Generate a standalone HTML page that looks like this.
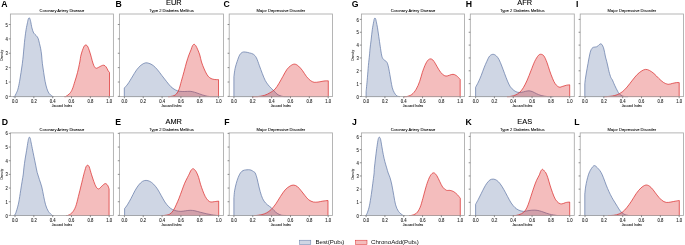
<!DOCTYPE html>
<html><head><meta charset="utf-8"><title>KDE plots</title><style>
html,body{margin:0;padding:0;background:#fff;}
svg{display:block;will-change:transform;}
text{font-family:"Liberation Sans",sans-serif;fill:#333;}
.tk{font-size:4.2px;fill:#222;stroke:#222;stroke-width:0.08px;}
.ti{font-size:4.1px;fill:#000;stroke:#000;stroke-width:0.06px;}
.xl{font-size:3.25px;fill:#111;stroke:#111;stroke-width:0.06px;}
.pl{font-size:8.7px;font-weight:bold;fill:#000;}
.gt{font-size:7.4px;fill:#000;stroke:#000;stroke-width:0.1px;}
.lg{font-size:6.15px;fill:#111;}
</style></head>
<body>
<svg width="685" height="245" viewBox="0 0 685 245">
<rect width="685" height="245" fill="#fff"/>
<path d="M13.00,96.60 L13.00,96.60 C13.23,96.60 13.88,96.60 14.40,96.60 C14.92,96.10 15.52,94.83 16.10,93.60 C16.68,92.37 17.32,91.25 17.90,89.20 C18.48,87.15 19.08,84.08 19.60,81.30 C20.12,78.52 20.55,75.42 21.00,72.50 C21.45,69.58 21.92,66.72 22.30,63.80 C22.68,60.88 23.02,57.78 23.30,55.00 C23.58,52.22 23.73,49.88 24.00,47.10 C24.27,44.32 24.55,41.23 24.90,38.30 C25.25,35.37 25.67,32.13 26.10,29.50 C26.53,26.87 27.15,24.20 27.50,22.50 C27.85,20.80 27.95,20.08 28.20,19.30 C28.45,18.52 28.72,17.90 29.00,17.80 C29.28,17.70 29.62,18.07 29.90,18.70 C30.18,19.33 30.37,20.08 30.70,21.60 C31.03,23.12 31.40,25.90 31.90,27.80 C32.40,29.70 32.97,31.68 33.70,33.00 C34.43,34.32 35.57,34.82 36.30,35.70 C37.03,36.58 37.57,36.98 38.10,38.30 C38.63,39.62 39.07,41.85 39.50,43.60 C39.93,45.35 40.35,46.90 40.70,48.80 C41.05,50.70 41.32,52.50 41.60,55.00 C41.88,57.50 42.05,60.88 42.40,63.80 C42.75,66.72 43.25,69.58 43.70,72.50 C44.15,75.42 44.58,78.67 45.10,81.30 C45.62,83.93 46.17,86.32 46.80,88.30 C47.43,90.28 48.02,91.88 48.90,93.20 C49.78,94.52 51.32,95.63 52.10,96.20 C52.88,96.60 53.35,96.53 53.60,96.60 L53.60,96.60 Z" fill="#5f76a5" fill-opacity="0.3" stroke="#5f76a5" stroke-width="0.7" stroke-linejoin="round"/>
<path d="M64.30,96.60 L64.30,96.60 C64.52,96.60 64.72,96.60 65.60,96.60 C66.48,96.10 68.48,94.83 69.60,93.60 C70.72,92.37 71.42,91.25 72.30,89.20 C73.18,87.15 74.03,84.08 74.90,81.30 C75.77,78.52 76.68,75.72 77.50,72.50 C78.32,69.28 79.22,64.92 79.80,62.00 C80.38,59.08 80.35,57.48 81.00,55.00 C81.65,52.52 82.90,48.77 83.70,47.10 C84.50,45.43 85.08,45.00 85.80,45.00 C86.52,45.00 87.18,45.43 88.00,47.10 C88.82,48.77 90.02,52.80 90.70,55.00 C91.38,57.20 91.58,58.55 92.10,60.30 C92.62,62.05 93.17,64.18 93.80,65.50 C94.43,66.82 95.10,67.90 95.90,68.20 C96.70,68.50 97.72,67.68 98.60,67.30 C99.48,66.92 100.33,66.25 101.20,65.90 C102.07,65.55 102.98,65.03 103.80,65.20 C104.62,65.37 105.37,65.97 106.10,66.90 C106.83,67.83 107.63,69.87 108.20,70.80 C108.77,71.73 109.28,72.22 109.50,72.50 L109.50,96.60 Z" fill="#da2626" fill-opacity="0.3" stroke="#da2626" stroke-width="0.7" stroke-linejoin="round"/>
<rect x="10.40" y="14.00" width="103.00" height="82.60" fill="none" stroke="#a8a8a8" stroke-width="0.85"/>
<line x1="15.00" y1="96.60" x2="15.00" y2="98.20" stroke="#444" stroke-width="0.6"/>
<text transform="translate(15.00,102.60) scale(1,1.1)" class="tk" text-anchor="middle">0.0</text>
<line x1="33.84" y1="96.60" x2="33.84" y2="98.20" stroke="#444" stroke-width="0.6"/>
<text transform="translate(33.84,102.60) scale(1,1.1)" class="tk" text-anchor="middle">0.2</text>
<line x1="52.68" y1="96.60" x2="52.68" y2="98.20" stroke="#444" stroke-width="0.6"/>
<text transform="translate(52.68,102.60) scale(1,1.1)" class="tk" text-anchor="middle">0.4</text>
<line x1="71.52" y1="96.60" x2="71.52" y2="98.20" stroke="#444" stroke-width="0.6"/>
<text transform="translate(71.52,102.60) scale(1,1.1)" class="tk" text-anchor="middle">0.6</text>
<line x1="90.36" y1="96.60" x2="90.36" y2="98.20" stroke="#444" stroke-width="0.6"/>
<text transform="translate(90.36,102.60) scale(1,1.1)" class="tk" text-anchor="middle">0.8</text>
<line x1="109.20" y1="96.60" x2="109.20" y2="98.20" stroke="#444" stroke-width="0.6"/>
<text transform="translate(109.20,102.60) scale(1,1.1)" class="tk" text-anchor="middle">1.0</text>
<line x1="8.80" y1="96.40" x2="10.40" y2="96.40" stroke="#444" stroke-width="0.6"/>
<text transform="translate(7.80,98.50) scale(1,1.1)" class="tk" text-anchor="end">0</text>
<line x1="8.80" y1="82.02" x2="10.40" y2="82.02" stroke="#444" stroke-width="0.6"/>
<text transform="translate(7.80,84.12) scale(1,1.1)" class="tk" text-anchor="end">1</text>
<line x1="8.80" y1="67.64" x2="10.40" y2="67.64" stroke="#444" stroke-width="0.6"/>
<text transform="translate(7.80,69.74) scale(1,1.1)" class="tk" text-anchor="end">2</text>
<line x1="8.80" y1="53.26" x2="10.40" y2="53.26" stroke="#444" stroke-width="0.6"/>
<text transform="translate(7.80,55.36) scale(1,1.1)" class="tk" text-anchor="end">3</text>
<line x1="8.80" y1="38.88" x2="10.40" y2="38.88" stroke="#444" stroke-width="0.6"/>
<text transform="translate(7.80,40.98) scale(1,1.1)" class="tk" text-anchor="end">4</text>
<line x1="8.80" y1="24.50" x2="10.40" y2="24.50" stroke="#444" stroke-width="0.6"/>
<text transform="translate(7.80,26.60) scale(1,1.1)" class="tk" text-anchor="end">5</text>
<text x="61.90" y="11.60" class="ti" text-anchor="middle">Coronary Artery Disease</text>
<text x="61.90" y="106.90" class="xl" text-anchor="middle">Jaccard Index</text>
<text x="0" y="0" class="xl" text-anchor="middle" transform="translate(3.40,55.30) rotate(-90)">Density</text>
<text x="1.20" y="6.70" class="pl">A</text>
<path d="M124.30,96.60 L124.30,88.00 C124.88,87.33 126.48,85.83 127.80,84.00 C129.12,82.17 130.73,79.35 132.20,77.00 C133.67,74.65 135.13,71.87 136.60,69.90 C138.07,67.93 139.55,66.37 141.00,65.20 C142.45,64.03 143.98,63.22 145.30,62.90 C146.62,62.58 147.58,62.87 148.90,63.30 C150.22,63.73 151.75,64.40 153.20,65.50 C154.65,66.60 156.13,68.20 157.60,69.90 C159.07,71.60 160.53,73.80 162.00,75.70 C163.47,77.60 164.93,79.48 166.40,81.30 C167.87,83.12 169.33,85.18 170.80,86.60 C172.27,88.02 173.73,89.02 175.20,89.80 C176.67,90.58 178.00,91.02 179.60,91.30 C181.20,91.58 183.05,91.50 184.80,91.50 C186.55,91.50 188.48,91.18 190.10,91.30 C191.72,91.42 192.88,91.75 194.50,92.20 C196.12,92.65 198.05,93.42 199.80,94.00 C201.55,94.58 203.25,95.27 205.00,95.70 C206.75,96.13 208.10,96.45 210.30,96.60 C212.50,96.60 216.88,96.60 218.20,96.60 L218.20,96.60 Z" fill="#5f76a5" fill-opacity="0.3" stroke="#5f76a5" stroke-width="0.7" stroke-linejoin="round"/>
<path d="M168.00,96.60 L168.00,96.60 C168.32,96.60 168.70,96.60 169.90,96.60 C171.10,96.33 173.73,96.08 175.20,95.00 C176.67,93.92 177.68,92.38 178.70,90.10 C179.72,87.82 180.42,84.37 181.30,81.30 C182.18,78.23 183.12,74.92 184.00,71.70 C184.88,68.48 185.78,64.78 186.60,62.00 C187.42,59.22 188.17,57.03 188.90,55.00 C189.63,52.97 190.42,51.32 191.00,49.80 C191.58,48.28 191.88,46.82 192.40,45.90 C192.92,44.98 193.52,44.30 194.10,44.30 C194.68,44.30 195.28,44.98 195.90,45.90 C196.52,46.82 197.15,48.28 197.80,49.80 C198.45,51.32 199.18,52.97 199.80,55.00 C200.42,57.03 200.77,59.67 201.50,62.00 C202.23,64.33 203.32,66.95 204.20,69.00 C205.08,71.05 205.93,72.88 206.80,74.30 C207.67,75.72 208.38,76.68 209.40,77.50 C210.42,78.32 211.72,78.85 212.90,79.20 C214.08,79.55 215.57,79.53 216.50,79.60 C217.43,79.67 218.17,79.60 218.50,79.60 L218.50,96.60 Z" fill="#da2626" fill-opacity="0.3" stroke="#da2626" stroke-width="0.7" stroke-linejoin="round"/>
<rect x="119.40" y="14.00" width="104.10" height="82.60" fill="none" stroke="#a8a8a8" stroke-width="0.85"/>
<line x1="124.40" y1="96.60" x2="124.40" y2="98.20" stroke="#444" stroke-width="0.6"/>
<text transform="translate(124.40,102.60) scale(1,1.1)" class="tk" text-anchor="middle">0.0</text>
<line x1="143.24" y1="96.60" x2="143.24" y2="98.20" stroke="#444" stroke-width="0.6"/>
<text transform="translate(143.24,102.60) scale(1,1.1)" class="tk" text-anchor="middle">0.2</text>
<line x1="162.08" y1="96.60" x2="162.08" y2="98.20" stroke="#444" stroke-width="0.6"/>
<text transform="translate(162.08,102.60) scale(1,1.1)" class="tk" text-anchor="middle">0.4</text>
<line x1="180.92" y1="96.60" x2="180.92" y2="98.20" stroke="#444" stroke-width="0.6"/>
<text transform="translate(180.92,102.60) scale(1,1.1)" class="tk" text-anchor="middle">0.6</text>
<line x1="199.76" y1="96.60" x2="199.76" y2="98.20" stroke="#444" stroke-width="0.6"/>
<text transform="translate(199.76,102.60) scale(1,1.1)" class="tk" text-anchor="middle">0.8</text>
<line x1="218.60" y1="96.60" x2="218.60" y2="98.20" stroke="#444" stroke-width="0.6"/>
<text transform="translate(218.60,102.60) scale(1,1.1)" class="tk" text-anchor="middle">1.0</text>
<line x1="117.80" y1="96.40" x2="119.40" y2="96.40" stroke="#444" stroke-width="0.6"/>
<line x1="117.80" y1="82.02" x2="119.40" y2="82.02" stroke="#444" stroke-width="0.6"/>
<line x1="117.80" y1="67.64" x2="119.40" y2="67.64" stroke="#444" stroke-width="0.6"/>
<line x1="117.80" y1="53.26" x2="119.40" y2="53.26" stroke="#444" stroke-width="0.6"/>
<line x1="117.80" y1="38.88" x2="119.40" y2="38.88" stroke="#444" stroke-width="0.6"/>
<line x1="117.80" y1="24.50" x2="119.40" y2="24.50" stroke="#444" stroke-width="0.6"/>
<text x="171.45" y="11.60" class="ti" text-anchor="middle">Type 2 Diabetes Mellitus</text>
<text x="171.45" y="106.90" class="xl" text-anchor="middle">Jaccard Index</text>
<text x="115.40" y="6.70" class="pl">B</text>
<path d="M233.90,96.60 L233.90,76.60 C234.10,75.23 234.55,70.95 235.10,68.40 C235.65,65.85 236.45,63.52 237.20,61.30 C237.95,59.08 238.75,56.60 239.60,55.10 C240.45,53.60 241.35,52.82 242.30,52.30 C243.25,51.78 244.12,51.90 245.30,52.00 C246.48,52.10 248.07,52.53 249.40,52.90 C250.73,53.27 252.13,53.38 253.30,54.20 C254.47,55.02 255.38,55.88 256.40,57.80 C257.42,59.72 258.42,63.08 259.40,65.70 C260.38,68.32 261.33,71.05 262.30,73.50 C263.27,75.95 264.22,78.50 265.20,80.40 C266.18,82.30 267.22,83.60 268.20,84.90 C269.18,86.20 270.12,87.17 271.10,88.20 C272.08,89.23 273.12,90.12 274.10,91.10 C275.08,92.08 276.03,93.35 277.00,94.10 C277.97,94.85 278.77,95.18 279.90,95.60 C281.03,96.02 282.17,96.43 283.80,96.60 C285.43,96.60 288.72,96.60 289.70,96.60 L289.70,96.60 Z" fill="#5f76a5" fill-opacity="0.3" stroke="#5f76a5" stroke-width="0.7" stroke-linejoin="round"/>
<path d="M252.00,96.60 L252.00,96.60 C252.90,96.60 255.35,96.60 257.40,96.60 C259.45,96.40 262.18,96.05 264.30,95.40 C266.42,94.75 268.32,93.73 270.10,92.70 C271.88,91.67 273.52,90.77 275.00,89.20 C276.48,87.63 277.68,85.43 279.00,83.30 C280.32,81.17 281.60,78.68 282.90,76.40 C284.20,74.12 285.50,71.38 286.80,69.60 C288.10,67.82 289.40,66.62 290.70,65.70 C292.00,64.78 293.30,64.03 294.60,64.10 C295.90,64.17 297.18,65.02 298.50,66.10 C299.82,67.18 301.18,68.88 302.50,70.60 C303.82,72.32 305.10,74.77 306.40,76.40 C307.70,78.03 309.00,79.42 310.30,80.40 C311.60,81.38 312.73,82.05 314.20,82.30 C315.67,82.55 317.47,82.12 319.10,81.90 C320.73,81.68 322.47,81.18 324.00,81.00 C325.53,80.82 327.58,80.83 328.30,80.80 L328.30,96.60 Z" fill="#da2626" fill-opacity="0.3" stroke="#da2626" stroke-width="0.7" stroke-linejoin="round"/>
<rect x="229.20" y="14.00" width="103.30" height="82.60" fill="none" stroke="#a8a8a8" stroke-width="0.85"/>
<line x1="233.90" y1="96.60" x2="233.90" y2="98.20" stroke="#444" stroke-width="0.6"/>
<text transform="translate(233.90,102.60) scale(1,1.1)" class="tk" text-anchor="middle">0.0</text>
<line x1="252.76" y1="96.60" x2="252.76" y2="98.20" stroke="#444" stroke-width="0.6"/>
<text transform="translate(252.76,102.60) scale(1,1.1)" class="tk" text-anchor="middle">0.2</text>
<line x1="271.62" y1="96.60" x2="271.62" y2="98.20" stroke="#444" stroke-width="0.6"/>
<text transform="translate(271.62,102.60) scale(1,1.1)" class="tk" text-anchor="middle">0.4</text>
<line x1="290.48" y1="96.60" x2="290.48" y2="98.20" stroke="#444" stroke-width="0.6"/>
<text transform="translate(290.48,102.60) scale(1,1.1)" class="tk" text-anchor="middle">0.6</text>
<line x1="309.34" y1="96.60" x2="309.34" y2="98.20" stroke="#444" stroke-width="0.6"/>
<text transform="translate(309.34,102.60) scale(1,1.1)" class="tk" text-anchor="middle">0.8</text>
<line x1="328.20" y1="96.60" x2="328.20" y2="98.20" stroke="#444" stroke-width="0.6"/>
<text transform="translate(328.20,102.60) scale(1,1.1)" class="tk" text-anchor="middle">1.0</text>
<line x1="227.60" y1="96.40" x2="229.20" y2="96.40" stroke="#444" stroke-width="0.6"/>
<line x1="227.60" y1="82.02" x2="229.20" y2="82.02" stroke="#444" stroke-width="0.6"/>
<line x1="227.60" y1="67.64" x2="229.20" y2="67.64" stroke="#444" stroke-width="0.6"/>
<line x1="227.60" y1="53.26" x2="229.20" y2="53.26" stroke="#444" stroke-width="0.6"/>
<line x1="227.60" y1="38.88" x2="229.20" y2="38.88" stroke="#444" stroke-width="0.6"/>
<line x1="227.60" y1="24.50" x2="229.20" y2="24.50" stroke="#444" stroke-width="0.6"/>
<text x="280.85" y="11.60" class="ti" text-anchor="middle">Major Depressive Disorder</text>
<text x="280.85" y="106.90" class="xl" text-anchor="middle">Jaccard Index</text>
<text x="223.60" y="6.70" class="pl">C</text>
<path d="M366.10,96.60 L366.10,91.50 C366.18,90.68 366.38,88.88 366.60,86.60 C366.82,84.32 367.10,81.32 367.40,77.80 C367.70,74.28 368.05,69.30 368.40,65.50 C368.75,61.70 369.23,57.77 369.50,55.00 C369.77,52.23 369.73,51.38 370.00,48.90 C370.27,46.42 370.72,43.32 371.10,40.10 C371.48,36.88 371.87,32.67 372.30,29.60 C372.73,26.53 373.38,23.43 373.70,21.70 C374.02,19.97 374.00,19.82 374.20,19.20 C374.40,18.58 374.65,18.02 374.90,18.00 C375.15,17.98 375.47,18.48 375.70,19.10 C375.93,19.72 376.00,20.25 376.30,21.70 C376.60,23.15 377.08,25.32 377.50,27.80 C377.92,30.28 378.35,33.53 378.80,36.60 C379.25,39.67 379.73,43.13 380.20,46.20 C380.67,49.27 381.17,52.95 381.60,55.00 C382.03,57.05 382.30,57.62 382.80,58.50 C383.30,59.38 384.02,59.80 384.60,60.30 C385.18,60.80 385.80,60.92 386.30,61.50 C386.80,62.08 387.20,62.68 387.60,63.80 C388.00,64.92 388.32,66.38 388.70,68.20 C389.08,70.02 389.52,72.53 389.90,74.70 C390.28,76.87 390.60,79.02 391.00,81.20 C391.40,83.38 391.75,85.88 392.30,87.80 C392.85,89.72 393.53,91.35 394.30,92.70 C395.07,94.05 395.95,95.25 396.90,95.90 C397.85,96.55 399.48,96.48 400.00,96.60 L400.00,96.60 Z" fill="#5f76a5" fill-opacity="0.3" stroke="#5f76a5" stroke-width="0.7" stroke-linejoin="round"/>
<path d="M404.00,96.60 L404.00,96.60 C404.42,96.60 405.20,96.60 406.50,96.60 C407.80,96.25 410.18,95.73 411.80,94.50 C413.42,93.27 414.88,91.40 416.20,89.20 C417.52,87.00 418.68,84.08 419.70,81.30 C420.72,78.52 421.43,75.13 422.30,72.50 C423.17,69.87 424.02,67.48 424.90,65.50 C425.78,63.52 426.72,61.70 427.60,60.60 C428.48,59.50 429.33,59.02 430.20,58.90 C431.07,58.78 431.92,59.08 432.80,59.90 C433.68,60.72 434.47,62.13 435.50,63.80 C436.53,65.47 437.83,68.15 439.00,69.90 C440.17,71.65 441.33,73.27 442.50,74.30 C443.67,75.33 444.83,75.95 446.00,76.10 C447.17,76.25 448.33,75.50 449.50,75.20 C450.67,74.90 451.83,74.22 453.00,74.30 C454.17,74.38 455.30,74.85 456.50,75.70 C457.70,76.55 459.58,78.78 460.20,79.40 L460.20,96.60 Z" fill="#da2626" fill-opacity="0.3" stroke="#da2626" stroke-width="0.7" stroke-linejoin="round"/>
<rect x="361.40" y="14.00" width="103.10" height="82.60" fill="none" stroke="#a8a8a8" stroke-width="0.85"/>
<line x1="366.10" y1="96.60" x2="366.10" y2="98.20" stroke="#444" stroke-width="0.6"/>
<text transform="translate(366.10,102.60) scale(1,1.1)" class="tk" text-anchor="middle">0.0</text>
<line x1="384.92" y1="96.60" x2="384.92" y2="98.20" stroke="#444" stroke-width="0.6"/>
<text transform="translate(384.92,102.60) scale(1,1.1)" class="tk" text-anchor="middle">0.2</text>
<line x1="403.74" y1="96.60" x2="403.74" y2="98.20" stroke="#444" stroke-width="0.6"/>
<text transform="translate(403.74,102.60) scale(1,1.1)" class="tk" text-anchor="middle">0.4</text>
<line x1="422.56" y1="96.60" x2="422.56" y2="98.20" stroke="#444" stroke-width="0.6"/>
<text transform="translate(422.56,102.60) scale(1,1.1)" class="tk" text-anchor="middle">0.6</text>
<line x1="441.38" y1="96.60" x2="441.38" y2="98.20" stroke="#444" stroke-width="0.6"/>
<text transform="translate(441.38,102.60) scale(1,1.1)" class="tk" text-anchor="middle">0.8</text>
<line x1="460.20" y1="96.60" x2="460.20" y2="98.20" stroke="#444" stroke-width="0.6"/>
<text transform="translate(460.20,102.60) scale(1,1.1)" class="tk" text-anchor="middle">1.0</text>
<line x1="359.80" y1="96.50" x2="361.40" y2="96.50" stroke="#444" stroke-width="0.6"/>
<text transform="translate(358.80,98.60) scale(1,1.1)" class="tk" text-anchor="end">0</text>
<line x1="359.80" y1="83.65" x2="361.40" y2="83.65" stroke="#444" stroke-width="0.6"/>
<text transform="translate(358.80,85.75) scale(1,1.1)" class="tk" text-anchor="end">1</text>
<line x1="359.80" y1="70.80" x2="361.40" y2="70.80" stroke="#444" stroke-width="0.6"/>
<text transform="translate(358.80,72.90) scale(1,1.1)" class="tk" text-anchor="end">2</text>
<line x1="359.80" y1="57.95" x2="361.40" y2="57.95" stroke="#444" stroke-width="0.6"/>
<text transform="translate(358.80,60.05) scale(1,1.1)" class="tk" text-anchor="end">3</text>
<line x1="359.80" y1="45.10" x2="361.40" y2="45.10" stroke="#444" stroke-width="0.6"/>
<text transform="translate(358.80,47.20) scale(1,1.1)" class="tk" text-anchor="end">4</text>
<line x1="359.80" y1="32.25" x2="361.40" y2="32.25" stroke="#444" stroke-width="0.6"/>
<text transform="translate(358.80,34.35) scale(1,1.1)" class="tk" text-anchor="end">5</text>
<line x1="359.80" y1="19.40" x2="361.40" y2="19.40" stroke="#444" stroke-width="0.6"/>
<text transform="translate(358.80,21.50) scale(1,1.1)" class="tk" text-anchor="end">6</text>
<text x="412.95" y="11.60" class="ti" text-anchor="middle">Coronary Artery Disease</text>
<text x="412.95" y="106.90" class="xl" text-anchor="middle">Jaccard Index</text>
<text x="0" y="0" class="xl" text-anchor="middle" transform="translate(354.40,55.30) rotate(-90)">Density</text>
<text x="351.70" y="6.70" class="pl">G</text>
<path d="M475.60,96.60 L475.60,87.30 C476.07,86.42 477.47,83.97 478.40,82.00 C479.33,80.03 480.27,77.85 481.20,75.50 C482.13,73.15 483.07,70.25 484.00,67.90 C484.93,65.55 485.87,63.37 486.80,61.40 C487.73,59.43 488.57,57.28 489.60,56.10 C490.63,54.92 491.90,54.35 493.00,54.30 C494.10,54.25 495.20,54.93 496.20,55.80 C497.20,56.67 498.07,57.78 499.00,59.50 C499.93,61.22 500.87,63.75 501.80,66.10 C502.73,68.45 503.65,71.10 504.60,73.60 C505.55,76.10 506.55,78.92 507.50,81.10 C508.45,83.28 509.22,85.13 510.30,86.70 C511.38,88.27 512.75,89.57 514.00,90.50 C515.25,91.43 516.55,92.00 517.80,92.30 C519.05,92.60 520.25,92.45 521.50,92.30 C522.75,92.15 524.05,91.65 525.30,91.40 C526.55,91.15 527.75,90.73 529.00,90.80 C530.25,90.87 531.55,91.32 532.80,91.80 C534.05,92.28 535.10,93.08 536.50,93.70 C537.90,94.32 539.32,95.02 541.20,95.50 C543.08,95.98 545.77,96.42 547.80,96.60 C549.83,96.60 552.47,96.60 553.40,96.60 L553.40,96.60 Z" fill="#5f76a5" fill-opacity="0.3" stroke="#5f76a5" stroke-width="0.7" stroke-linejoin="round"/>
<path d="M507.00,96.60 L507.00,96.60 C507.38,96.60 507.97,96.60 509.30,96.60 C510.63,96.37 513.27,95.92 515.00,95.20 C516.73,94.48 518.30,93.57 519.70,92.30 C521.10,91.03 522.15,89.63 523.40,87.60 C524.65,85.57 525.95,82.90 527.20,80.10 C528.45,77.30 529.65,73.92 530.90,70.80 C532.15,67.68 533.45,63.97 534.70,61.40 C535.95,58.83 537.32,56.58 538.40,55.40 C539.48,54.22 540.27,54.18 541.20,54.30 C542.13,54.42 543.05,54.77 544.00,56.10 C544.95,57.43 545.95,59.85 546.90,62.30 C547.85,64.75 548.77,68.13 549.70,70.80 C550.63,73.47 551.57,76.12 552.50,78.30 C553.43,80.48 554.20,82.43 555.30,83.90 C556.40,85.37 557.85,86.70 559.10,87.10 C560.35,87.50 561.55,86.62 562.80,86.30 C564.05,85.98 565.45,85.45 566.60,85.20 C567.75,84.95 569.18,84.87 569.70,84.80 L569.70,96.60 Z" fill="#da2626" fill-opacity="0.3" stroke="#da2626" stroke-width="0.7" stroke-linejoin="round"/>
<rect x="470.30" y="14.00" width="104.00" height="82.60" fill="none" stroke="#a8a8a8" stroke-width="0.85"/>
<line x1="475.60" y1="96.60" x2="475.60" y2="98.20" stroke="#444" stroke-width="0.6"/>
<text transform="translate(475.60,102.60) scale(1,1.1)" class="tk" text-anchor="middle">0.0</text>
<line x1="494.42" y1="96.60" x2="494.42" y2="98.20" stroke="#444" stroke-width="0.6"/>
<text transform="translate(494.42,102.60) scale(1,1.1)" class="tk" text-anchor="middle">0.2</text>
<line x1="513.24" y1="96.60" x2="513.24" y2="98.20" stroke="#444" stroke-width="0.6"/>
<text transform="translate(513.24,102.60) scale(1,1.1)" class="tk" text-anchor="middle">0.4</text>
<line x1="532.06" y1="96.60" x2="532.06" y2="98.20" stroke="#444" stroke-width="0.6"/>
<text transform="translate(532.06,102.60) scale(1,1.1)" class="tk" text-anchor="middle">0.6</text>
<line x1="550.88" y1="96.60" x2="550.88" y2="98.20" stroke="#444" stroke-width="0.6"/>
<text transform="translate(550.88,102.60) scale(1,1.1)" class="tk" text-anchor="middle">0.8</text>
<line x1="569.70" y1="96.60" x2="569.70" y2="98.20" stroke="#444" stroke-width="0.6"/>
<text transform="translate(569.70,102.60) scale(1,1.1)" class="tk" text-anchor="middle">1.0</text>
<line x1="468.70" y1="96.50" x2="470.30" y2="96.50" stroke="#444" stroke-width="0.6"/>
<line x1="468.70" y1="83.65" x2="470.30" y2="83.65" stroke="#444" stroke-width="0.6"/>
<line x1="468.70" y1="70.80" x2="470.30" y2="70.80" stroke="#444" stroke-width="0.6"/>
<line x1="468.70" y1="57.95" x2="470.30" y2="57.95" stroke="#444" stroke-width="0.6"/>
<line x1="468.70" y1="45.10" x2="470.30" y2="45.10" stroke="#444" stroke-width="0.6"/>
<line x1="468.70" y1="32.25" x2="470.30" y2="32.25" stroke="#444" stroke-width="0.6"/>
<line x1="468.70" y1="19.40" x2="470.30" y2="19.40" stroke="#444" stroke-width="0.6"/>
<text x="522.30" y="11.60" class="ti" text-anchor="middle">Type 2 Diabetes Mellitus</text>
<text x="522.30" y="106.90" class="xl" text-anchor="middle">Jaccard Index</text>
<text x="465.70" y="6.70" class="pl">H</text>
<path d="M584.80,96.60 L584.80,83.50 C584.92,82.58 585.25,79.75 585.50,78.00 C585.75,76.25 586.03,74.58 586.30,73.00 C586.57,71.42 586.82,70.08 587.10,68.50 C587.38,66.92 587.72,65.08 588.00,63.50 C588.28,61.92 588.53,60.42 588.80,59.00 C589.07,57.58 589.30,56.33 589.60,55.00 C589.90,53.67 590.20,52.12 590.60,51.00 C591.00,49.88 591.48,48.93 592.00,48.30 C592.52,47.67 592.98,47.43 593.70,47.20 C594.42,46.97 595.53,47.17 596.30,46.90 C597.07,46.63 597.65,46.10 598.30,45.60 C598.95,45.10 599.60,44.08 600.20,43.90 C600.80,43.72 601.35,43.85 601.90,44.50 C602.45,45.15 603.05,46.48 603.50,47.80 C603.95,49.12 604.27,50.87 604.60,52.40 C604.93,53.93 605.13,55.43 605.50,57.00 C605.87,58.57 606.38,60.13 606.80,61.80 C607.22,63.47 607.63,65.38 608.00,67.00 C608.37,68.62 608.67,70.17 609.00,71.50 C609.33,72.83 609.67,73.95 610.00,75.00 C610.33,76.05 610.62,77.00 611.00,77.80 C611.38,78.60 611.68,78.55 612.30,79.80 C612.92,81.05 613.82,83.40 614.70,85.30 C615.58,87.20 616.78,89.73 617.60,91.20 C618.42,92.67 618.78,93.30 619.60,94.10 C620.42,94.90 621.53,95.58 622.50,96.00 C623.47,96.42 624.48,96.50 625.40,96.60 C626.32,96.60 627.57,96.60 628.00,96.60 L628.00,96.60 Z" fill="#5f76a5" fill-opacity="0.3" stroke="#5f76a5" stroke-width="0.7" stroke-linejoin="round"/>
<path d="M604.50,96.60 L604.50,96.60 C604.83,96.60 605.20,96.60 606.50,96.60 C607.80,96.50 610.52,96.32 612.30,96.00 C614.08,95.68 615.55,95.38 617.20,94.70 C618.85,94.02 620.55,93.18 622.20,91.90 C623.85,90.62 625.38,88.97 627.10,87.00 C628.82,85.03 630.82,82.18 632.50,80.10 C634.18,78.02 635.63,76.05 637.20,74.50 C638.77,72.95 640.50,71.65 641.90,70.80 C643.30,69.95 644.35,69.47 645.60,69.40 C646.85,69.33 648.00,69.70 649.40,70.40 C650.80,71.10 652.45,72.28 654.00,73.60 C655.55,74.92 657.13,76.83 658.70,78.30 C660.27,79.77 661.83,81.40 663.40,82.40 C664.97,83.40 666.53,84.15 668.10,84.30 C669.67,84.45 671.38,83.58 672.80,83.30 C674.22,83.02 675.53,82.72 676.60,82.60 C677.67,82.48 678.77,82.60 679.20,82.60 L679.20,96.60 Z" fill="#da2626" fill-opacity="0.3" stroke="#da2626" stroke-width="0.7" stroke-linejoin="round"/>
<rect x="580.20" y="14.00" width="103.30" height="82.60" fill="none" stroke="#a8a8a8" stroke-width="0.85"/>
<line x1="585.00" y1="96.60" x2="585.00" y2="98.20" stroke="#444" stroke-width="0.6"/>
<text transform="translate(585.00,102.60) scale(1,1.1)" class="tk" text-anchor="middle">0.0</text>
<line x1="603.84" y1="96.60" x2="603.84" y2="98.20" stroke="#444" stroke-width="0.6"/>
<text transform="translate(603.84,102.60) scale(1,1.1)" class="tk" text-anchor="middle">0.2</text>
<line x1="622.68" y1="96.60" x2="622.68" y2="98.20" stroke="#444" stroke-width="0.6"/>
<text transform="translate(622.68,102.60) scale(1,1.1)" class="tk" text-anchor="middle">0.4</text>
<line x1="641.52" y1="96.60" x2="641.52" y2="98.20" stroke="#444" stroke-width="0.6"/>
<text transform="translate(641.52,102.60) scale(1,1.1)" class="tk" text-anchor="middle">0.6</text>
<line x1="660.36" y1="96.60" x2="660.36" y2="98.20" stroke="#444" stroke-width="0.6"/>
<text transform="translate(660.36,102.60) scale(1,1.1)" class="tk" text-anchor="middle">0.8</text>
<line x1="679.20" y1="96.60" x2="679.20" y2="98.20" stroke="#444" stroke-width="0.6"/>
<text transform="translate(679.20,102.60) scale(1,1.1)" class="tk" text-anchor="middle">1.0</text>
<line x1="578.60" y1="96.50" x2="580.20" y2="96.50" stroke="#444" stroke-width="0.6"/>
<line x1="578.60" y1="83.65" x2="580.20" y2="83.65" stroke="#444" stroke-width="0.6"/>
<line x1="578.60" y1="70.80" x2="580.20" y2="70.80" stroke="#444" stroke-width="0.6"/>
<line x1="578.60" y1="57.95" x2="580.20" y2="57.95" stroke="#444" stroke-width="0.6"/>
<line x1="578.60" y1="45.10" x2="580.20" y2="45.10" stroke="#444" stroke-width="0.6"/>
<line x1="578.60" y1="32.25" x2="580.20" y2="32.25" stroke="#444" stroke-width="0.6"/>
<line x1="578.60" y1="19.40" x2="580.20" y2="19.40" stroke="#444" stroke-width="0.6"/>
<text x="631.85" y="11.60" class="ti" text-anchor="middle">Major Depressive Disorder</text>
<text x="631.85" y="106.90" class="xl" text-anchor="middle">Jaccard Index</text>
<text x="575.90" y="6.70" class="pl">I</text>
<path d="M13.50,215.50 L13.50,215.50 C13.75,215.38 14.43,215.50 15.00,214.80 C15.57,213.80 16.27,211.63 16.90,209.50 C17.53,207.37 18.18,205.12 18.80,202.00 C19.42,198.88 20.05,194.23 20.60,190.80 C21.15,187.37 21.65,184.20 22.10,181.40 C22.55,178.60 23.00,176.25 23.30,174.00 C23.60,171.75 23.60,170.38 23.90,167.90 C24.20,165.42 24.65,162.03 25.10,159.10 C25.55,156.17 26.12,153.23 26.60,150.30 C27.08,147.37 27.65,143.47 28.00,141.50 C28.35,139.53 28.45,139.23 28.70,138.50 C28.95,137.77 29.23,137.12 29.50,137.10 C29.77,137.08 30.07,137.67 30.30,138.40 C30.53,139.13 30.57,139.82 30.90,141.50 C31.23,143.18 31.80,146.02 32.30,148.50 C32.80,150.98 33.33,153.62 33.90,156.40 C34.47,159.18 35.15,162.52 35.70,165.20 C36.25,167.88 36.58,170.12 37.20,172.50 C37.82,174.88 38.63,177.08 39.40,179.50 C40.17,181.92 41.08,184.18 41.80,187.00 C42.52,189.82 43.07,193.43 43.70,196.40 C44.33,199.37 44.82,202.30 45.60,204.80 C46.38,207.30 47.25,209.62 48.40,211.40 C49.55,213.18 51.57,214.82 52.50,215.50 C53.43,215.50 53.75,215.50 54.00,215.50 L54.00,215.50 Z" fill="#5f76a5" fill-opacity="0.3" stroke="#5f76a5" stroke-width="0.7" stroke-linejoin="round"/>
<path d="M66.00,215.50 L66.00,215.50 C66.25,215.50 66.52,215.50 67.50,215.50 C68.48,215.07 70.55,214.37 71.90,212.90 C73.25,211.43 74.52,209.45 75.60,206.70 C76.68,203.95 77.47,200.00 78.40,196.40 C79.33,192.80 80.32,188.70 81.20,185.10 C82.08,181.50 83.10,177.18 83.70,174.80 C84.30,172.42 84.40,172.17 84.80,170.80 C85.20,169.43 85.63,167.53 86.10,166.60 C86.57,165.67 87.10,165.20 87.60,165.20 C88.10,165.20 88.63,165.67 89.10,166.60 C89.57,167.53 89.98,169.43 90.40,170.80 C90.82,172.17 91.03,173.03 91.60,174.80 C92.17,176.57 93.03,179.37 93.80,181.40 C94.57,183.43 95.38,185.75 96.20,187.00 C97.02,188.25 97.75,189.05 98.70,188.90 C99.65,188.75 100.83,186.98 101.90,186.10 C102.97,185.22 104.17,183.77 105.10,183.60 C106.03,183.43 106.83,184.22 107.50,185.10 C108.17,185.98 108.83,188.27 109.10,188.90 L109.10,215.50 Z" fill="#da2626" fill-opacity="0.3" stroke="#da2626" stroke-width="0.7" stroke-linejoin="round"/>
<rect x="10.40" y="132.90" width="103.00" height="82.60" fill="none" stroke="#a8a8a8" stroke-width="0.85"/>
<line x1="15.00" y1="215.50" x2="15.00" y2="217.10" stroke="#444" stroke-width="0.6"/>
<text transform="translate(15.00,221.50) scale(1,1.1)" class="tk" text-anchor="middle">0.0</text>
<line x1="33.84" y1="215.50" x2="33.84" y2="217.10" stroke="#444" stroke-width="0.6"/>
<text transform="translate(33.84,221.50) scale(1,1.1)" class="tk" text-anchor="middle">0.2</text>
<line x1="52.68" y1="215.50" x2="52.68" y2="217.10" stroke="#444" stroke-width="0.6"/>
<text transform="translate(52.68,221.50) scale(1,1.1)" class="tk" text-anchor="middle">0.4</text>
<line x1="71.52" y1="215.50" x2="71.52" y2="217.10" stroke="#444" stroke-width="0.6"/>
<text transform="translate(71.52,221.50) scale(1,1.1)" class="tk" text-anchor="middle">0.6</text>
<line x1="90.36" y1="215.50" x2="90.36" y2="217.10" stroke="#444" stroke-width="0.6"/>
<text transform="translate(90.36,221.50) scale(1,1.1)" class="tk" text-anchor="middle">0.8</text>
<line x1="109.20" y1="215.50" x2="109.20" y2="217.10" stroke="#444" stroke-width="0.6"/>
<text transform="translate(109.20,221.50) scale(1,1.1)" class="tk" text-anchor="middle">1.0</text>
<line x1="8.80" y1="215.40" x2="10.40" y2="215.40" stroke="#444" stroke-width="0.6"/>
<text transform="translate(7.80,217.50) scale(1,1.1)" class="tk" text-anchor="end">0</text>
<line x1="8.80" y1="201.73" x2="10.40" y2="201.73" stroke="#444" stroke-width="0.6"/>
<text transform="translate(7.80,203.83) scale(1,1.1)" class="tk" text-anchor="end">1</text>
<line x1="8.80" y1="188.06" x2="10.40" y2="188.06" stroke="#444" stroke-width="0.6"/>
<text transform="translate(7.80,190.16) scale(1,1.1)" class="tk" text-anchor="end">2</text>
<line x1="8.80" y1="174.39" x2="10.40" y2="174.39" stroke="#444" stroke-width="0.6"/>
<text transform="translate(7.80,176.49) scale(1,1.1)" class="tk" text-anchor="end">3</text>
<line x1="8.80" y1="160.72" x2="10.40" y2="160.72" stroke="#444" stroke-width="0.6"/>
<text transform="translate(7.80,162.82) scale(1,1.1)" class="tk" text-anchor="end">4</text>
<line x1="8.80" y1="147.05" x2="10.40" y2="147.05" stroke="#444" stroke-width="0.6"/>
<text transform="translate(7.80,149.15) scale(1,1.1)" class="tk" text-anchor="end">5</text>
<line x1="8.80" y1="133.38" x2="10.40" y2="133.38" stroke="#444" stroke-width="0.6"/>
<text transform="translate(7.80,135.48) scale(1,1.1)" class="tk" text-anchor="end">6</text>
<text x="61.90" y="130.50" class="ti" text-anchor="middle">Coronary Artery Disease</text>
<text x="61.90" y="225.80" class="xl" text-anchor="middle">Jaccard Index</text>
<text x="0" y="0" class="xl" text-anchor="middle" transform="translate(3.40,174.20) rotate(-90)">Density</text>
<text x="1.80" y="124.80" class="pl">D</text>
<path d="M124.60,215.50 L124.60,208.60 C125.07,207.97 126.32,206.52 127.40,204.80 C128.48,203.08 129.85,200.63 131.10,198.30 C132.35,195.97 133.65,193.00 134.90,190.80 C136.15,188.60 137.35,186.67 138.60,185.10 C139.85,183.53 141.15,182.18 142.40,181.40 C143.65,180.62 144.85,180.40 146.10,180.40 C147.35,180.40 148.65,180.77 149.90,181.40 C151.15,182.03 152.35,182.95 153.60,184.20 C154.85,185.45 156.13,187.02 157.40,188.90 C158.67,190.78 159.95,193.32 161.20,195.50 C162.45,197.68 163.65,200.13 164.90,202.00 C166.15,203.87 167.45,205.45 168.70,206.70 C169.95,207.95 171.15,208.82 172.40,209.50 C173.65,210.18 174.78,210.48 176.20,210.80 C177.62,211.12 179.35,211.40 180.90,211.40 C182.45,211.40 183.95,210.98 185.50,210.80 C187.05,210.62 188.63,210.30 190.20,210.30 C191.77,210.30 193.18,210.47 194.90,210.80 C196.62,211.13 198.62,211.82 200.50,212.30 C202.38,212.78 204.32,213.28 206.20,213.70 C208.08,214.12 209.93,214.50 211.80,214.80 C213.67,215.10 216.23,215.38 217.40,215.50 C218.57,215.50 218.57,215.50 218.80,215.50 L218.80,215.50 Z" fill="#5f76a5" fill-opacity="0.3" stroke="#5f76a5" stroke-width="0.7" stroke-linejoin="round"/>
<path d="M162.00,215.50 L162.00,215.50 C162.33,215.50 162.73,215.50 164.00,215.50 C165.27,215.28 168.05,215.03 169.60,214.20 C171.15,213.37 172.20,212.07 173.30,210.50 C174.40,208.93 175.25,206.83 176.20,204.80 C177.15,202.77 178.07,200.63 179.00,198.30 C179.93,195.97 180.87,193.30 181.80,190.80 C182.73,188.30 183.67,185.50 184.60,183.30 C185.53,181.10 186.62,179.17 187.40,177.60 C188.18,176.03 188.70,175.12 189.30,173.90 C189.90,172.68 190.37,171.17 191.00,170.30 C191.63,169.43 192.40,168.70 193.10,168.70 C193.80,168.70 194.58,169.60 195.20,170.30 C195.82,171.00 196.22,171.68 196.80,172.90 C197.38,174.12 198.08,175.72 198.70,177.60 C199.32,179.48 199.82,182.00 200.50,184.20 C201.18,186.40 202.02,188.77 202.80,190.80 C203.58,192.83 204.32,194.78 205.20,196.40 C206.08,198.02 207.15,199.57 208.10,200.50 C209.05,201.43 209.82,201.82 210.90,202.00 C211.98,202.18 213.30,201.75 214.60,201.60 C215.90,201.45 218.02,201.18 218.70,201.10 L218.70,215.50 Z" fill="#da2626" fill-opacity="0.3" stroke="#da2626" stroke-width="0.7" stroke-linejoin="round"/>
<rect x="119.40" y="132.90" width="104.10" height="82.60" fill="none" stroke="#a8a8a8" stroke-width="0.85"/>
<line x1="124.40" y1="215.50" x2="124.40" y2="217.10" stroke="#444" stroke-width="0.6"/>
<text transform="translate(124.40,221.50) scale(1,1.1)" class="tk" text-anchor="middle">0.0</text>
<line x1="143.24" y1="215.50" x2="143.24" y2="217.10" stroke="#444" stroke-width="0.6"/>
<text transform="translate(143.24,221.50) scale(1,1.1)" class="tk" text-anchor="middle">0.2</text>
<line x1="162.08" y1="215.50" x2="162.08" y2="217.10" stroke="#444" stroke-width="0.6"/>
<text transform="translate(162.08,221.50) scale(1,1.1)" class="tk" text-anchor="middle">0.4</text>
<line x1="180.92" y1="215.50" x2="180.92" y2="217.10" stroke="#444" stroke-width="0.6"/>
<text transform="translate(180.92,221.50) scale(1,1.1)" class="tk" text-anchor="middle">0.6</text>
<line x1="199.76" y1="215.50" x2="199.76" y2="217.10" stroke="#444" stroke-width="0.6"/>
<text transform="translate(199.76,221.50) scale(1,1.1)" class="tk" text-anchor="middle">0.8</text>
<line x1="218.60" y1="215.50" x2="218.60" y2="217.10" stroke="#444" stroke-width="0.6"/>
<text transform="translate(218.60,221.50) scale(1,1.1)" class="tk" text-anchor="middle">1.0</text>
<line x1="117.80" y1="215.40" x2="119.40" y2="215.40" stroke="#444" stroke-width="0.6"/>
<line x1="117.80" y1="201.73" x2="119.40" y2="201.73" stroke="#444" stroke-width="0.6"/>
<line x1="117.80" y1="188.06" x2="119.40" y2="188.06" stroke="#444" stroke-width="0.6"/>
<line x1="117.80" y1="174.39" x2="119.40" y2="174.39" stroke="#444" stroke-width="0.6"/>
<line x1="117.80" y1="160.72" x2="119.40" y2="160.72" stroke="#444" stroke-width="0.6"/>
<line x1="117.80" y1="147.05" x2="119.40" y2="147.05" stroke="#444" stroke-width="0.6"/>
<line x1="117.80" y1="133.38" x2="119.40" y2="133.38" stroke="#444" stroke-width="0.6"/>
<text x="171.45" y="130.50" class="ti" text-anchor="middle">Type 2 Diabetes Mellitus</text>
<text x="171.45" y="225.80" class="xl" text-anchor="middle">Jaccard Index</text>
<text x="115.20" y="124.80" class="pl">E</text>
<path d="M233.90,215.50 L233.90,197.60 C234.02,196.47 234.22,193.15 234.60,190.80 C234.98,188.45 235.60,185.73 236.20,183.50 C236.80,181.27 237.48,179.18 238.20,177.40 C238.92,175.62 239.70,173.93 240.50,172.80 C241.30,171.67 242.13,171.08 243.00,170.60 C243.87,170.12 244.80,170.05 245.70,169.90 C246.60,169.75 247.52,169.67 248.40,169.70 C249.28,169.73 250.17,169.80 251.00,170.10 C251.83,170.40 252.70,171.02 253.40,171.50 C254.10,171.98 254.58,171.82 255.20,173.00 C255.82,174.18 256.47,176.27 257.10,178.60 C257.73,180.93 258.28,184.18 259.00,187.00 C259.72,189.82 260.57,193.15 261.40,195.50 C262.23,197.85 263.00,199.55 264.00,201.10 C265.00,202.65 266.20,203.72 267.40,204.80 C268.60,205.88 270.10,206.65 271.20,207.60 C272.30,208.55 273.00,209.55 274.00,210.50 C275.00,211.45 275.95,212.52 277.20,213.30 C278.45,214.08 280.00,214.83 281.50,215.20 C283.00,215.50 285.42,215.45 286.20,215.50 L286.20,215.50 Z" fill="#5f76a5" fill-opacity="0.3" stroke="#5f76a5" stroke-width="0.7" stroke-linejoin="round"/>
<path d="M254.00,215.50 L254.00,215.50 C254.35,215.50 254.80,215.50 256.10,215.50 C257.40,215.35 260.07,215.03 261.80,214.60 C263.53,214.17 264.93,213.75 266.50,212.90 C268.07,212.05 269.65,211.00 271.20,209.50 C272.75,208.00 274.25,206.08 275.80,203.90 C277.35,201.72 278.93,198.75 280.50,196.40 C282.07,194.05 283.63,191.52 285.20,189.80 C286.77,188.08 288.48,186.88 289.90,186.10 C291.32,185.32 292.45,185.02 293.70,185.10 C294.95,185.18 296.15,185.65 297.40,186.60 C298.65,187.55 299.95,189.32 301.20,190.80 C302.45,192.28 303.65,194.00 304.90,195.50 C306.15,197.00 307.28,198.72 308.70,199.80 C310.12,200.88 311.83,201.63 313.40,202.00 C314.97,202.37 316.55,202.15 318.10,202.00 C319.65,201.85 321.05,201.35 322.70,201.10 C324.35,200.85 327.12,200.60 328.00,200.50 L328.00,215.50 Z" fill="#da2626" fill-opacity="0.3" stroke="#da2626" stroke-width="0.7" stroke-linejoin="round"/>
<rect x="229.20" y="132.90" width="103.30" height="82.60" fill="none" stroke="#a8a8a8" stroke-width="0.85"/>
<line x1="233.90" y1="215.50" x2="233.90" y2="217.10" stroke="#444" stroke-width="0.6"/>
<text transform="translate(233.90,221.50) scale(1,1.1)" class="tk" text-anchor="middle">0.0</text>
<line x1="252.76" y1="215.50" x2="252.76" y2="217.10" stroke="#444" stroke-width="0.6"/>
<text transform="translate(252.76,221.50) scale(1,1.1)" class="tk" text-anchor="middle">0.2</text>
<line x1="271.62" y1="215.50" x2="271.62" y2="217.10" stroke="#444" stroke-width="0.6"/>
<text transform="translate(271.62,221.50) scale(1,1.1)" class="tk" text-anchor="middle">0.4</text>
<line x1="290.48" y1="215.50" x2="290.48" y2="217.10" stroke="#444" stroke-width="0.6"/>
<text transform="translate(290.48,221.50) scale(1,1.1)" class="tk" text-anchor="middle">0.6</text>
<line x1="309.34" y1="215.50" x2="309.34" y2="217.10" stroke="#444" stroke-width="0.6"/>
<text transform="translate(309.34,221.50) scale(1,1.1)" class="tk" text-anchor="middle">0.8</text>
<line x1="328.20" y1="215.50" x2="328.20" y2="217.10" stroke="#444" stroke-width="0.6"/>
<text transform="translate(328.20,221.50) scale(1,1.1)" class="tk" text-anchor="middle">1.0</text>
<line x1="227.60" y1="215.40" x2="229.20" y2="215.40" stroke="#444" stroke-width="0.6"/>
<line x1="227.60" y1="201.73" x2="229.20" y2="201.73" stroke="#444" stroke-width="0.6"/>
<line x1="227.60" y1="188.06" x2="229.20" y2="188.06" stroke="#444" stroke-width="0.6"/>
<line x1="227.60" y1="174.39" x2="229.20" y2="174.39" stroke="#444" stroke-width="0.6"/>
<line x1="227.60" y1="160.72" x2="229.20" y2="160.72" stroke="#444" stroke-width="0.6"/>
<line x1="227.60" y1="147.05" x2="229.20" y2="147.05" stroke="#444" stroke-width="0.6"/>
<line x1="227.60" y1="133.38" x2="229.20" y2="133.38" stroke="#444" stroke-width="0.6"/>
<text x="280.85" y="130.50" class="ti" text-anchor="middle">Major Depressive Disorder</text>
<text x="280.85" y="225.80" class="xl" text-anchor="middle">Jaccard Index</text>
<text x="224.30" y="124.80" class="pl">F</text>
<path d="M365.30,215.50 L365.30,215.50 C365.47,215.38 365.93,215.33 366.30,214.80 C366.67,214.27 366.98,213.80 367.50,212.30 C368.02,210.80 368.77,208.77 369.40,205.80 C370.03,202.83 370.73,198.25 371.30,194.50 C371.87,190.75 372.35,186.72 372.80,183.30 C373.25,179.88 373.73,176.57 374.00,174.00 C374.27,171.43 374.17,170.38 374.40,167.90 C374.63,165.42 375.02,162.32 375.40,159.10 C375.78,155.88 376.28,151.67 376.70,148.60 C377.12,145.53 377.60,142.43 377.90,140.70 C378.20,138.97 378.27,138.80 378.50,138.20 C378.73,137.60 379.03,137.13 379.30,137.10 C379.57,137.07 379.87,137.55 380.10,138.00 C380.33,138.45 380.40,138.33 380.70,139.80 C381.00,141.27 381.47,144.32 381.90,146.80 C382.33,149.28 382.80,152.22 383.30,154.70 C383.80,157.18 384.33,159.50 384.90,161.70 C385.47,163.90 386.15,166.02 386.70,167.90 C387.25,169.78 387.65,171.38 388.20,173.00 C388.75,174.62 389.38,175.58 390.00,177.60 C390.62,179.62 391.27,182.12 391.90,185.10 C392.53,188.08 393.18,192.22 393.80,195.50 C394.42,198.78 394.82,202.15 395.60,204.80 C396.38,207.45 397.23,209.62 398.50,211.40 C399.77,213.18 402.12,214.82 403.20,215.50 C404.28,215.50 404.70,215.50 405.00,215.50 L405.00,215.50 Z" fill="#5f76a5" fill-opacity="0.3" stroke="#5f76a5" stroke-width="0.7" stroke-linejoin="round"/>
<path d="M409.00,215.50 L409.00,215.50 C409.33,215.50 409.78,215.50 411.00,215.50 C412.22,215.13 414.80,214.62 416.30,213.30 C417.80,211.98 418.90,210.10 420.00,207.60 C421.10,205.10 421.95,201.58 422.90,198.30 C423.85,195.02 424.77,191.03 425.70,187.90 C426.63,184.77 427.57,181.77 428.50,179.50 C429.43,177.23 430.37,175.40 431.30,174.30 C432.23,173.20 433.17,172.65 434.10,172.90 C435.03,173.15 435.97,174.38 436.90,175.80 C437.83,177.22 438.75,179.53 439.70,181.40 C440.65,183.27 441.50,185.53 442.60,187.00 C443.70,188.47 445.05,189.63 446.30,190.20 C447.55,190.77 448.85,190.15 450.10,190.40 C451.35,190.65 452.55,190.95 453.80,191.70 C455.05,192.45 456.52,193.80 457.60,194.90 C458.68,196.00 459.85,197.73 460.30,198.30 L460.30,215.50 Z" fill="#da2626" fill-opacity="0.3" stroke="#da2626" stroke-width="0.7" stroke-linejoin="round"/>
<rect x="361.40" y="132.90" width="103.10" height="82.60" fill="none" stroke="#a8a8a8" stroke-width="0.85"/>
<line x1="366.10" y1="215.50" x2="366.10" y2="217.10" stroke="#444" stroke-width="0.6"/>
<text transform="translate(366.10,221.50) scale(1,1.1)" class="tk" text-anchor="middle">0.0</text>
<line x1="384.92" y1="215.50" x2="384.92" y2="217.10" stroke="#444" stroke-width="0.6"/>
<text transform="translate(384.92,221.50) scale(1,1.1)" class="tk" text-anchor="middle">0.2</text>
<line x1="403.74" y1="215.50" x2="403.74" y2="217.10" stroke="#444" stroke-width="0.6"/>
<text transform="translate(403.74,221.50) scale(1,1.1)" class="tk" text-anchor="middle">0.4</text>
<line x1="422.56" y1="215.50" x2="422.56" y2="217.10" stroke="#444" stroke-width="0.6"/>
<text transform="translate(422.56,221.50) scale(1,1.1)" class="tk" text-anchor="middle">0.6</text>
<line x1="441.38" y1="215.50" x2="441.38" y2="217.10" stroke="#444" stroke-width="0.6"/>
<text transform="translate(441.38,221.50) scale(1,1.1)" class="tk" text-anchor="middle">0.8</text>
<line x1="460.20" y1="215.50" x2="460.20" y2="217.10" stroke="#444" stroke-width="0.6"/>
<text transform="translate(460.20,221.50) scale(1,1.1)" class="tk" text-anchor="middle">1.0</text>
<line x1="359.80" y1="215.50" x2="361.40" y2="215.50" stroke="#444" stroke-width="0.6"/>
<text transform="translate(358.80,217.60) scale(1,1.1)" class="tk" text-anchor="end">0</text>
<line x1="359.80" y1="202.32" x2="361.40" y2="202.32" stroke="#444" stroke-width="0.6"/>
<text transform="translate(358.80,204.42) scale(1,1.1)" class="tk" text-anchor="end">1</text>
<line x1="359.80" y1="189.14" x2="361.40" y2="189.14" stroke="#444" stroke-width="0.6"/>
<text transform="translate(358.80,191.24) scale(1,1.1)" class="tk" text-anchor="end">2</text>
<line x1="359.80" y1="175.96" x2="361.40" y2="175.96" stroke="#444" stroke-width="0.6"/>
<text transform="translate(358.80,178.06) scale(1,1.1)" class="tk" text-anchor="end">3</text>
<line x1="359.80" y1="162.78" x2="361.40" y2="162.78" stroke="#444" stroke-width="0.6"/>
<text transform="translate(358.80,164.88) scale(1,1.1)" class="tk" text-anchor="end">4</text>
<line x1="359.80" y1="149.60" x2="361.40" y2="149.60" stroke="#444" stroke-width="0.6"/>
<text transform="translate(358.80,151.70) scale(1,1.1)" class="tk" text-anchor="end">5</text>
<line x1="359.80" y1="136.42" x2="361.40" y2="136.42" stroke="#444" stroke-width="0.6"/>
<text transform="translate(358.80,138.52) scale(1,1.1)" class="tk" text-anchor="end">6</text>
<text x="412.95" y="130.50" class="ti" text-anchor="middle">Coronary Artery Disease</text>
<text x="412.95" y="225.80" class="xl" text-anchor="middle">Jaccard Index</text>
<text x="0" y="0" class="xl" text-anchor="middle" transform="translate(354.40,174.20) rotate(-90)">Density</text>
<text x="352.00" y="124.80" class="pl">J</text>
<path d="M475.60,215.50 L475.60,204.30 C476.07,203.45 477.47,200.98 478.40,199.20 C479.33,197.42 480.27,195.47 481.20,193.60 C482.13,191.73 483.07,189.72 484.00,188.00 C484.93,186.28 485.80,184.65 486.80,183.30 C487.80,181.95 488.90,180.60 490.00,179.90 C491.10,179.20 492.27,179.02 493.40,179.10 C494.53,179.18 495.70,179.65 496.80,180.40 C497.90,181.15 498.85,182.12 500.00,183.60 C501.15,185.08 502.45,187.17 503.70,189.30 C504.95,191.43 506.25,194.12 507.50,196.40 C508.75,198.68 509.95,201.13 511.20,203.00 C512.45,204.87 513.75,206.42 515.00,207.60 C516.25,208.78 517.30,209.47 518.70,210.10 C520.10,210.73 521.68,211.33 523.40,211.40 C525.12,211.47 527.12,210.72 529.00,210.50 C530.88,210.28 532.97,210.05 534.70,210.10 C536.43,210.15 537.85,210.43 539.40,210.80 C540.95,211.17 542.28,211.73 544.00,212.30 C545.72,212.87 547.50,213.67 549.70,214.20 C551.90,214.73 555.48,215.28 557.20,215.50 C558.92,215.50 559.53,215.50 560.00,215.50 L560.00,215.50 Z" fill="#5f76a5" fill-opacity="0.3" stroke="#5f76a5" stroke-width="0.7" stroke-linejoin="round"/>
<path d="M513.00,215.50 L513.00,215.50 C513.48,215.50 514.48,215.50 515.90,215.50 C517.32,215.20 519.93,214.53 521.50,213.70 C523.07,212.87 524.20,211.98 525.30,210.50 C526.40,209.02 527.17,207.15 528.10,204.80 C529.03,202.45 529.97,199.22 530.90,196.40 C531.83,193.58 532.77,190.57 533.70,187.90 C534.63,185.23 535.55,182.58 536.50,180.40 C537.45,178.22 538.72,176.28 539.40,174.80 C540.08,173.32 540.10,172.42 540.60,171.50 C541.10,170.58 541.78,169.38 542.40,169.30 C543.02,169.22 543.72,170.40 544.30,171.00 C544.88,171.60 545.32,171.80 545.90,172.90 C546.48,174.00 547.12,175.57 547.80,177.60 C548.48,179.63 549.22,182.60 550.00,185.10 C550.78,187.60 551.62,190.25 552.50,192.60 C553.38,194.95 554.27,197.47 555.30,199.20 C556.33,200.93 557.60,202.22 558.70,203.00 C559.80,203.78 560.75,203.97 561.90,203.90 C563.05,203.83 564.30,202.92 565.60,202.60 C566.90,202.28 569.02,202.10 569.70,202.00 L569.70,215.50 Z" fill="#da2626" fill-opacity="0.3" stroke="#da2626" stroke-width="0.7" stroke-linejoin="round"/>
<rect x="470.30" y="132.90" width="104.00" height="82.60" fill="none" stroke="#a8a8a8" stroke-width="0.85"/>
<line x1="475.60" y1="215.50" x2="475.60" y2="217.10" stroke="#444" stroke-width="0.6"/>
<text transform="translate(475.60,221.50) scale(1,1.1)" class="tk" text-anchor="middle">0.0</text>
<line x1="494.42" y1="215.50" x2="494.42" y2="217.10" stroke="#444" stroke-width="0.6"/>
<text transform="translate(494.42,221.50) scale(1,1.1)" class="tk" text-anchor="middle">0.2</text>
<line x1="513.24" y1="215.50" x2="513.24" y2="217.10" stroke="#444" stroke-width="0.6"/>
<text transform="translate(513.24,221.50) scale(1,1.1)" class="tk" text-anchor="middle">0.4</text>
<line x1="532.06" y1="215.50" x2="532.06" y2="217.10" stroke="#444" stroke-width="0.6"/>
<text transform="translate(532.06,221.50) scale(1,1.1)" class="tk" text-anchor="middle">0.6</text>
<line x1="550.88" y1="215.50" x2="550.88" y2="217.10" stroke="#444" stroke-width="0.6"/>
<text transform="translate(550.88,221.50) scale(1,1.1)" class="tk" text-anchor="middle">0.8</text>
<line x1="569.70" y1="215.50" x2="569.70" y2="217.10" stroke="#444" stroke-width="0.6"/>
<text transform="translate(569.70,221.50) scale(1,1.1)" class="tk" text-anchor="middle">1.0</text>
<line x1="468.70" y1="215.50" x2="470.30" y2="215.50" stroke="#444" stroke-width="0.6"/>
<line x1="468.70" y1="202.32" x2="470.30" y2="202.32" stroke="#444" stroke-width="0.6"/>
<line x1="468.70" y1="189.14" x2="470.30" y2="189.14" stroke="#444" stroke-width="0.6"/>
<line x1="468.70" y1="175.96" x2="470.30" y2="175.96" stroke="#444" stroke-width="0.6"/>
<line x1="468.70" y1="162.78" x2="470.30" y2="162.78" stroke="#444" stroke-width="0.6"/>
<line x1="468.70" y1="149.60" x2="470.30" y2="149.60" stroke="#444" stroke-width="0.6"/>
<line x1="468.70" y1="136.42" x2="470.30" y2="136.42" stroke="#444" stroke-width="0.6"/>
<text x="522.30" y="130.50" class="ti" text-anchor="middle">Type 2 Diabetes Mellitus</text>
<text x="522.30" y="225.80" class="xl" text-anchor="middle">Jaccard Index</text>
<text x="465.50" y="124.80" class="pl">K</text>
<path d="M584.80,215.50 L584.80,194.10 C584.93,192.92 585.25,189.28 585.60,187.00 C585.95,184.72 586.43,182.43 586.90,180.40 C587.37,178.37 587.95,176.23 588.40,174.80 C588.85,173.37 589.12,172.82 589.60,171.80 C590.08,170.78 590.50,169.73 591.30,168.70 C592.10,167.67 593.23,165.60 594.40,165.60 C595.57,165.60 597.18,167.55 598.30,168.70 C599.42,169.85 600.25,171.02 601.10,172.50 C601.95,173.98 602.55,175.50 603.40,177.60 C604.25,179.70 605.27,182.75 606.20,185.10 C607.13,187.45 608.07,189.67 609.00,191.70 C609.93,193.73 610.87,195.58 611.80,197.30 C612.73,199.02 613.65,200.43 614.60,202.00 C615.55,203.57 616.55,205.20 617.50,206.70 C618.45,208.20 619.22,209.75 620.30,211.00 C621.38,212.25 622.60,213.45 624.00,214.20 C625.40,214.95 627.70,215.28 628.70,215.50 C629.70,215.50 629.78,215.50 630.00,215.50 L630.00,215.50 Z" fill="#5f76a5" fill-opacity="0.3" stroke="#5f76a5" stroke-width="0.7" stroke-linejoin="round"/>
<path d="M608.00,215.50 L608.00,215.50 C608.48,215.50 609.48,215.50 610.90,215.50 C612.32,215.38 614.62,215.33 616.50,214.80 C618.38,214.27 620.48,213.50 622.20,212.30 C623.92,211.10 625.25,209.47 626.80,207.60 C628.35,205.73 629.93,203.43 631.50,201.10 C633.07,198.77 634.63,195.78 636.20,193.60 C637.77,191.42 639.33,189.42 640.90,188.00 C642.47,186.58 644.18,185.42 645.60,185.10 C647.02,184.78 648.15,185.32 649.40,186.10 C650.65,186.88 651.85,188.33 653.10,189.80 C654.35,191.27 655.48,193.18 656.90,194.90 C658.32,196.62 660.05,198.85 661.60,200.10 C663.15,201.35 664.65,202.08 666.20,202.40 C667.75,202.72 669.33,202.22 670.90,202.00 C672.47,201.78 674.20,201.35 675.60,201.10 C677.00,200.85 678.68,200.60 679.30,200.50 L679.30,215.50 Z" fill="#da2626" fill-opacity="0.3" stroke="#da2626" stroke-width="0.7" stroke-linejoin="round"/>
<rect x="580.20" y="132.90" width="103.30" height="82.60" fill="none" stroke="#a8a8a8" stroke-width="0.85"/>
<line x1="585.00" y1="215.50" x2="585.00" y2="217.10" stroke="#444" stroke-width="0.6"/>
<text transform="translate(585.00,221.50) scale(1,1.1)" class="tk" text-anchor="middle">0.0</text>
<line x1="603.84" y1="215.50" x2="603.84" y2="217.10" stroke="#444" stroke-width="0.6"/>
<text transform="translate(603.84,221.50) scale(1,1.1)" class="tk" text-anchor="middle">0.2</text>
<line x1="622.68" y1="215.50" x2="622.68" y2="217.10" stroke="#444" stroke-width="0.6"/>
<text transform="translate(622.68,221.50) scale(1,1.1)" class="tk" text-anchor="middle">0.4</text>
<line x1="641.52" y1="215.50" x2="641.52" y2="217.10" stroke="#444" stroke-width="0.6"/>
<text transform="translate(641.52,221.50) scale(1,1.1)" class="tk" text-anchor="middle">0.6</text>
<line x1="660.36" y1="215.50" x2="660.36" y2="217.10" stroke="#444" stroke-width="0.6"/>
<text transform="translate(660.36,221.50) scale(1,1.1)" class="tk" text-anchor="middle">0.8</text>
<line x1="679.20" y1="215.50" x2="679.20" y2="217.10" stroke="#444" stroke-width="0.6"/>
<text transform="translate(679.20,221.50) scale(1,1.1)" class="tk" text-anchor="middle">1.0</text>
<line x1="578.60" y1="215.50" x2="580.20" y2="215.50" stroke="#444" stroke-width="0.6"/>
<line x1="578.60" y1="202.32" x2="580.20" y2="202.32" stroke="#444" stroke-width="0.6"/>
<line x1="578.60" y1="189.14" x2="580.20" y2="189.14" stroke="#444" stroke-width="0.6"/>
<line x1="578.60" y1="175.96" x2="580.20" y2="175.96" stroke="#444" stroke-width="0.6"/>
<line x1="578.60" y1="162.78" x2="580.20" y2="162.78" stroke="#444" stroke-width="0.6"/>
<line x1="578.60" y1="149.60" x2="580.20" y2="149.60" stroke="#444" stroke-width="0.6"/>
<line x1="578.60" y1="136.42" x2="580.20" y2="136.42" stroke="#444" stroke-width="0.6"/>
<text x="631.85" y="130.50" class="ti" text-anchor="middle">Major Depressive Disorder</text>
<text x="631.85" y="225.80" class="xl" text-anchor="middle">Jaccard Index</text>
<text x="574.30" y="124.80" class="pl">L</text>
<text x="173.8" y="5.35" class="gt" text-anchor="middle">EUR</text>
<text x="524.7" y="5.35" class="gt" text-anchor="middle">AFR</text>
<text x="173.7" y="124.4" class="gt" text-anchor="middle">AMR</text>
<text x="524.7" y="124.4" class="gt" text-anchor="middle">EAS</text>
<rect x="299.5" y="240.2" width="11.3" height="4.3" fill="#5f76a5" fill-opacity="0.3" stroke="#5f76a5" stroke-width="0.5"/>
<text x="315.4" y="243.8" class="lg">Best(Pub<tspan font-size="3.3" dy="0.6">k</tspan><tspan dy="-0.6">)</tspan></text>
<rect x="355.6" y="240.2" width="11.4" height="4.3" fill="#da2626" fill-opacity="0.3" stroke="#da2626" stroke-width="0.5"/>
<text x="371.0" y="243.8" class="lg">ChronoAdd(Pub<tspan font-size="3.3" dy="0.6">k</tspan><tspan dy="-0.6">)</tspan></text>
</svg>
</body></html>
